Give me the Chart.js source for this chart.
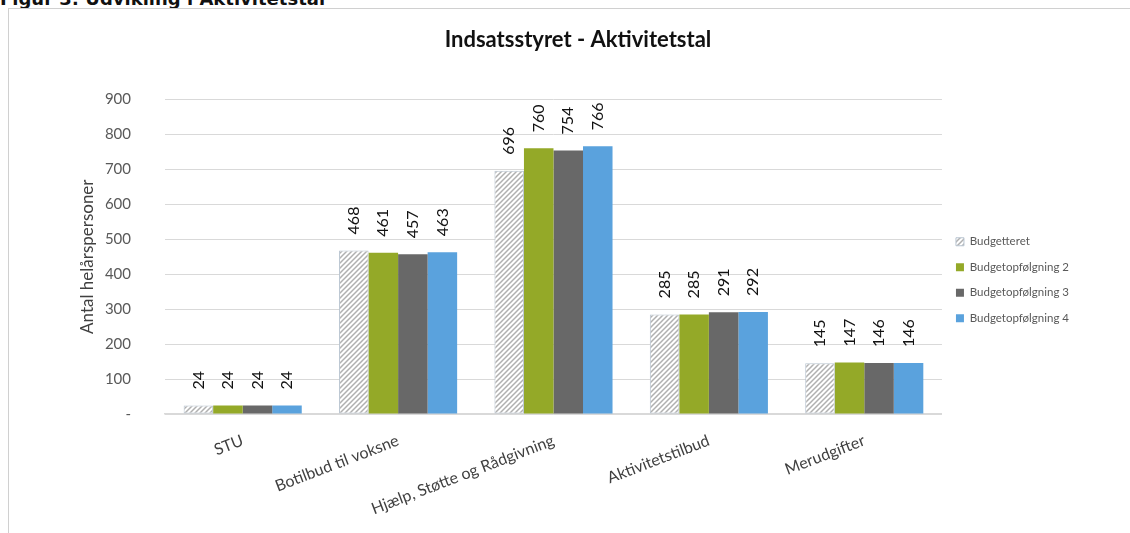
<!DOCTYPE html>
<html>
<head>
<meta charset="utf-8">
<script src="https://cdn.jsdelivr.net/npm/chart.js@4.4.1/dist/chart.umd.min.js"></script>
<style>
  html, body { margin: 0; padding: 0; background: #fff; overflow: hidden; }
  body { width: 1130px; height: 533px; position: relative; }
  .fig-title {
    position: absolute; left: 0; top: -12px;
    font: bold 18px "DejaVu Sans", sans-serif; color: #111; white-space: nowrap;
  }
  .frame {
    position: absolute; left: 8px; top: 8px; width: 1122px; height: 525px;
    border-left: 1px solid #d0d0d0; border-top: 1px solid #d0d0d0;
  }
  #chart { display: block; }
</style>
</head>
<body>
<div class="fig-title">Figur 3: Udvikling i Aktivitetstal</div>
<div class="frame">
  <canvas id="chart" width="1121" height="524"></canvas>
</div>
<script>
// Data
const categories = ['STU', 'Botilbud til voksne', 'Hjælp, Støtte og Rådgivning', 'Aktivitetstilbud', 'Merudgifter'];
const seriesNames = ['Budgetteret', 'Budgetopfølgning 2', 'Budgetopfølgning 3', 'Budgetopfølgning 4'];
const budgetteret = [24, 468, 696, 285, 145];
const budget2 = [24, 461, 760, 285, 147];
const budget3 = [24, 457, 754, 291, 146];
const budget4 = [24, 463, 766, 292, 146];
const yTicks = [0, 100, 200, 300, 400, 500, 600, 700, 800, 900];

const FONT = 'Lato, "Open Sans", sans-serif';

// hatched fill for the "Budgetteret" series
function makeHatch() {
    const c = document.createElement('canvas');
    c.width = 5; c.height = 5;
    const g = c.getContext('2d');
    g.fillStyle = '#ffffff';
    g.fillRect(0, 0, 5, 5);
    g.strokeStyle = '#b0b0b0';
    g.lineWidth = 1.5;
    g.beginPath();
    g.moveTo(0, 5); g.lineTo(5, 0);
    g.moveTo(-2.5, 2.5); g.lineTo(2.5, -2.5);
    g.moveTo(2.5, 7.5); g.lineTo(7.5, 2.5);
    g.stroke();
    return g.createPattern(c, 'repeat');
}

const hatch = makeHatch();

// rotated value labels above each bar
const valueLabels = {
    id: 'valueLabels',
    afterDatasetsDraw(chart) {
        const ctx = chart.ctx;
        ctx.save();
        ctx.font = '16px ' + FONT;
        ctx.fillStyle = '#111';
        ctx.textAlign = 'left';
        ctx.textBaseline = 'middle';
        chart.data.datasets.forEach((ds, i) => {
            const meta = chart.getDatasetMeta(i);
            meta.data.forEach((bar, j) => {
                ctx.save();
                ctx.translate(bar.x, bar.y - 16);
                ctx.rotate(-Math.PI / 2);
                ctx.fillText(String(ds.data[j]), 0, 0);
                ctx.restore();
            });
        });
        ctx.restore();
    }
};

const ctx = document.getElementById('chart').getContext('2d');
const chart = new Chart(ctx, {
    type: 'bar',
    data: {
        labels: categories,
        datasets: [
            { label: seriesNames[0], data: budgetteret, backgroundColor: hatch, borderColor: '#b8c4d0', borderWidth: 1 },
            { label: seriesNames[1], data: budget2, backgroundColor: '#94a928', borderWidth: 0 },
            { label: seriesNames[2], data: budget3, backgroundColor: '#686868', borderWidth: 0 },
            { label: seriesNames[3], data: budget4, backgroundColor: '#5aa2dd', borderWidth: 0 }
        ]
    },
    options: {
        responsive: false,
        animation: false,
        devicePixelRatio: 1,
        layout: {
            padding: { left: 68, right: 51, top: 0, bottom: 10 }
        },
        datasets: {
            bar: { barPercentage: 1, categoryPercentage: 0.76, borderSkipped: false }
        },
        scales: {
            x: {
                grid: { display: false, drawTicks: false },
                border: { color: '#d9d9d9', width: 1.5 },
                ticks: {
                    color: '#404040',
                    font: { family: FONT, size: 16 },
                    minRotation: 21,
                    maxRotation: 21,
                    padding: 17,
                    autoSkip: false
                },
                afterFit(scale) { scale.height = 109; }
            },
            y: {
                min: 0,
                max: 900,
                afterBuildTicks(scale) { scale.ticks = yTicks.map(v => ({ value: v })); },
                grid: { color: '#d9d9d9', drawTicks: false },
                border: { display: false },
                ticks: {
                    color: '#595959',
                    font: { family: FONT, size: 15 },
                    padding: 34,
                    callback: v => (v === 0 ? '-' : v)
                },
                title: {
                    display: true,
                    text: 'Antal helårspersoner',
                    color: '#404040',
                    font: { family: FONT, size: 17 },
                    padding: 0
                },
                afterFit(scale) { scale.width = 88; }
            }
        },
        plugins: {
            title: {
                display: true,
                text: 'Indsatsstyret - Aktivitetstal',
                color: '#111',
                font: { family: FONT, size: 22, weight: 'bold' },
                padding: { top: 18, bottom: 46 }
            },
            legend: {
                position: 'right',
                align: 'center',
                // empty title only pushes the entries down a little
                title: {
                    display: true,
                    text: ' ',
                    font: { size: 10 },
                    padding: { top: 8, bottom: 8 }
                },
                labels: {
                    boxWidth: 8,
                    boxHeight: 8,
                    padding: 14,
                    color: '#595959',
                    font: { family: FONT, size: 11.5 }
                }
            },
            tooltip: { enabled: false }
        }
    },
    plugins: [valueLabels]
});
</script>
</body>
</html>
